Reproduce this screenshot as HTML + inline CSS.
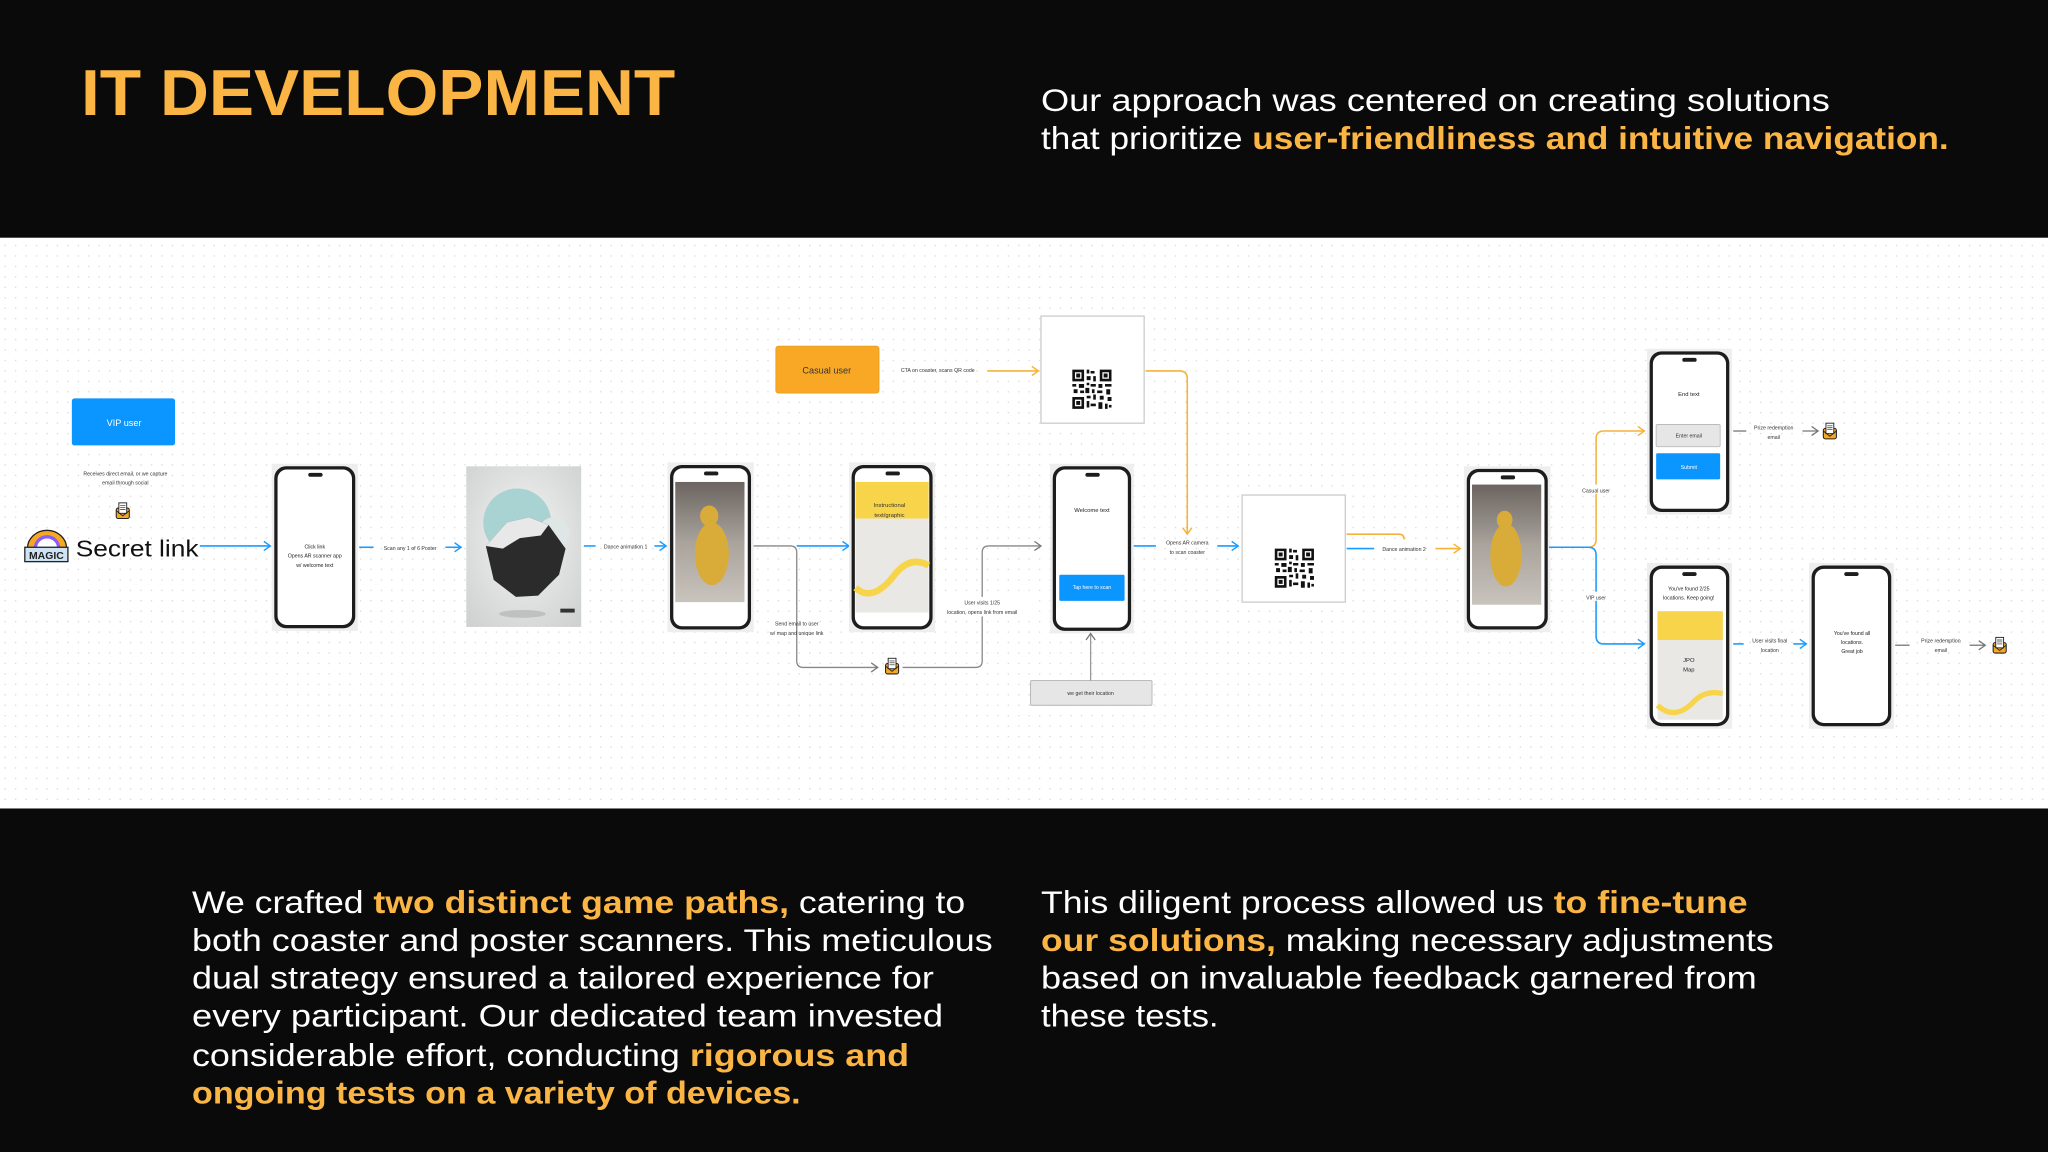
<!DOCTYPE html>
<html><head><meta charset="utf-8"><style>
html,body{margin:0;padding:0;background:#0a0a0a;}
svg{display:block;}
text{font-family:"Liberation Sans",Arial,sans-serif;}
</style></head><body>
<svg width="2048" height="1152" viewBox="0 0 1568 882" xmlns="http://www.w3.org/2000/svg">
<defs>
<pattern id="dots" width="8" height="8" patternUnits="userSpaceOnUse"><circle cx="4" cy="4" r="0.55" fill="#d6d6d6"/></pattern>
<marker id="ab" markerWidth="8" markerHeight="8" refX="6" refY="4" orient="auto" markerUnits="userSpaceOnUse"><path d="M1,0.5 L6,4 L1,7.5" fill="none" stroke="#1a9bff" stroke-width="1.1"/></marker>
<marker id="ao" markerWidth="8" markerHeight="8" refX="6" refY="4" orient="auto" markerUnits="userSpaceOnUse"><path d="M1,0.5 L6,4 L1,7.5" fill="none" stroke="#f7b23b" stroke-width="1.1"/></marker>
<marker id="ag" markerWidth="8" markerHeight="8" refX="6" refY="4" orient="auto" markerUnits="userSpaceOnUse"><path d="M1,0.5 L6,4 L1,7.5" fill="none" stroke="#777" stroke-width="1"/></marker>
<linearGradient id="hall" x1="0" y1="0" x2="0" y2="1"><stop offset="0" stop-color="#6b6460"/><stop offset="0.5" stop-color="#a9a39c"/><stop offset="1" stop-color="#c9c3bd"/></linearGradient>
<radialGradient id="post" cx="0.5" cy="0.45" r="0.7"><stop offset="0" stop-color="#f4f4f3"/><stop offset="1" stop-color="#cfd2d1"/></radialGradient>
<g id="env"><rect x="-5" y="-3" width="10" height="8" rx="1.5" fill="#f7a823" stroke="#222" stroke-width="0.8"/><rect x="-3" y="-7" width="6" height="8" fill="#fff" stroke="#222" stroke-width="0.7"/><path d="M-2,-5h4M-2,-3.5h4M-2,-2h4" stroke="#222" stroke-width="0.5"/><path d="M-5,-1 L0,3 L5,-1" fill="none" stroke="#222" stroke-width="0.7"/></g>
<g id="qr"><rect x="0" y="0" width="30" height="30" fill="#fff"/><path fill="#111" d="M0,0h9v9h-9zM2,2v5h5v-5zM3,3h3v3h-3zM21,0h9v9h-9zM23,2v5h5v-5zM24,3h3v3h-3zM0,21h9v9h-9zM2,23v5h5v-5zM3,24h3v3h-3zM11,0h2v3h-2zM14,1h3v2h-3zM11,5h3v3h-3zM16,5h2v4h-2zM0,11h3v2h-3zM5,11h4v3h-4zM11,10h2v2h-2zM14,11h4v2h-4zM20,11h3v3h-3zM25,11h5v2h-5zM1,15h3v3h-3zM6,16h3v2h-3zM10,14h3v4h-3zM15,15h2v3h-2zM19,16h4v2h-4zM26,15h3v4h-3zM11,20h3v2h-3zM16,19h2v4h-2zM21,20h3v3h-3zM27,21h3v3h-3zM11,24h2v5h-2zM14,26h4v2h-4zM20,25h3v5h-3zM25,26h2v4h-2zM28,27h2v2h-2z"/></g>
</defs>

<!-- top band -->
<rect x="0" y="0" width="1568" height="182" fill="#0a0a0a"/>
<text x="62" y="88" font-size="50" font-weight="bold" fill="#fbb545" textLength="455" lengthAdjust="spacingAndGlyphs">IT DEVELOPMENT</text>
<text x="797" y="85" font-size="24" fill="#fff" textLength="604" lengthAdjust="spacingAndGlyphs">Our approach was centered on creating solutions</text>
<text x="797" y="114" font-size="24" fill="#fff" textLength="695" lengthAdjust="spacingAndGlyphs">that prioritize <tspan fill="#fbb545" font-weight="bold">user-friendliness and intuitive navigation.</tspan></text>

<!-- diagram band -->
<rect x="0" y="182" width="1568" height="437" fill="#fff"/>
<rect x="0" y="182" width="1568" height="437" fill="url(#dots)"/>

<!-- VIP -->
<rect x="55" y="305" width="79" height="36" rx="2" fill="#0a95ff"/>
<text x="95" y="326" font-size="7" fill="#fff" text-anchor="middle">VIP user</text>
<text x="96" y="364" font-size="4" fill="#333" text-anchor="middle">Receives direct email, or we capture</text>
<text x="96" y="371" font-size="4" fill="#333" text-anchor="middle">email through social</text>
<use href="#env" x="94" y="392"/>
<!-- magic logo -->
<path d="M21,420 a15,14 0 0 1 30,0" fill="#f7a823" stroke="#222" stroke-width="1"/>
<path d="M27,420 a9,9 0 0 1 18,0" fill="#fff" stroke="#8b5cf6" stroke-width="2.5"/>
<rect x="19" y="419" width="33" height="11" fill="#cfe3f5" stroke="#222" stroke-width="1"/>
<text x="35.5" y="428" font-size="8" font-weight="bold" fill="#222" text-anchor="middle">MAGIC</text>
<text x="58" y="426" font-size="18" fill="#111" textLength="94" lengthAdjust="spacingAndGlyphs">Secret link</text>
<line x1="153" y1="418" x2="207" y2="418" stroke="#1a9bff" stroke-width="1.2" marker-end="url(#ab)"/>

<!-- phone 1 -->
<rect x="208" y="355" width="66" height="128" fill="#eee"/>
<rect x="210" y="357" width="62" height="124" rx="9" fill="#1d1d1d"/>
<rect x="212.5" y="359.5" width="57" height="119" rx="7" fill="#fff"/>
<rect x="236" y="362" width="11" height="3" rx="1.5" fill="#1d1d1d"/>
<text x="241" y="420" font-size="4" fill="#222" text-anchor="middle">Click link</text>
<text x="241" y="427" font-size="4" fill="#222" text-anchor="middle">Opens AR scanner app</text>
<text x="241" y="434" font-size="4" fill="#222" text-anchor="middle">w/ welcome text</text>

<line x1="275" y1="419" x2="286" y2="419" stroke="#1a9bff" stroke-width="1.2"/>
<text x="314" y="421" font-size="4" fill="#333" text-anchor="middle">Scan any 1 of 6 Poster</text>
<line x1="341" y1="419" x2="353" y2="419" stroke="#1a9bff" stroke-width="1.2" marker-end="url(#ab)"/>

<!-- poster -->
<rect x="357" y="357" width="88" height="123" fill="url(#post)"/>
<circle cx="396" cy="400" r="26" fill="#a9d3d2"/>
<circle cx="424" cy="408" r="12" fill="#dfe6e6"/>
<path d="M372,418 L388,400 L405,396 L420,402 L433,420 L428,440 L412,456 L395,457 L378,444 Z" fill="#2b2b2b"/>
<path d="M372,418 L388,400 L405,396 L420,402 L414,410 L398,412 L385,420 Z" fill="#e8e8e8"/>
<ellipse cx="400" cy="470" rx="18" ry="3" fill="#bfc1c1"/>
<rect x="429" y="466" width="11" height="3" fill="#333"/>

<line x1="447" y1="418" x2="456" y2="418" stroke="#1a9bff" stroke-width="1.2"/>
<text x="479" y="420" font-size="4" fill="#333" text-anchor="middle">Dance animation 1</text>
<line x1="501" y1="418" x2="510" y2="418" stroke="#1a9bff" stroke-width="1.2" marker-end="url(#ab)"/>

<!-- phone 3 dance -->
<rect x="511" y="354" width="66" height="130" fill="#eee"/>
<rect x="513" y="356" width="62" height="126" rx="9" fill="#1d1d1d"/>
<rect x="515.5" y="358.5" width="57" height="121" rx="7" fill="#fff"/>
<rect x="539" y="361" width="11" height="3" rx="1.5" fill="#1d1d1d"/>
<rect x="517" y="369" width="53" height="92" fill="url(#hall)"/>
<ellipse cx="545" cy="424" rx="13" ry="24" fill="#d9ac3a"/>
<ellipse cx="543" cy="395" rx="7" ry="8" fill="#d9ac3a"/>

<!-- gray + blue from phone3 -->
<path d="M577,418 H605 Q610,418 610,423 V506 Q610,511 615,511 H672" fill="none" stroke="#888" stroke-width="1" marker-end="url(#ag)"/>
<line x1="610" y1="418" x2="650" y2="418" stroke="#1a9bff" stroke-width="1.2" marker-end="url(#ab)"/>
<text x="610" y="479" font-size="4" fill="#333" text-anchor="middle">Send email to user</text>
<text x="610" y="486" font-size="4" fill="#333" text-anchor="middle">w/ map and unique link</text>
<use href="#env" x="683" y="511"/>
<path d="M691,511 H747 Q752,511 752,506 V423 Q752,418 757,418 H797" fill="none" stroke="#888" stroke-width="1" marker-end="url(#ag)"/>
<rect x="712" y="457" width="80" height="15" fill="#fff"/>
<text x="752" y="463" font-size="4" fill="#333" text-anchor="middle">User visits 1/25</text>
<text x="752" y="470" font-size="4" fill="#333" text-anchor="middle">location, opens link from email</text>

<!-- phone 4 instructional -->
<rect x="650" y="354" width="66" height="130" fill="#eee"/>
<rect x="652" y="356" width="62" height="126" rx="9" fill="#1d1d1d"/>
<rect x="654.5" y="358.5" width="57" height="121" rx="7" fill="#fff"/>
<rect x="678" y="361" width="11" height="3" rx="1.5" fill="#1d1d1d"/>
<rect x="655" y="369" width="56" height="100" fill="#e9e8e4"/>
<rect x="655" y="369" width="56" height="28" fill="#f7d44a"/>
<path d="M655,450 Q668,462 685,440 Q697,425 711,433" fill="none" stroke="#f7d44a" stroke-width="5"/>
<text x="681" y="388" font-size="4.5" fill="#333" text-anchor="middle">Instructional</text>
<text x="681" y="396" font-size="4.5" fill="#333" text-anchor="middle">text/graphic</text>

<!-- casual user -->
<rect x="594" y="265" width="79" height="36" rx="2" fill="#f9a825" stroke="#e59b1c" stroke-width="0.6"/>
<text x="633" y="286" font-size="7" fill="#333" text-anchor="middle">Casual user</text>
<text x="718" y="285" font-size="4" fill="#333" text-anchor="middle">CTA on coaster, scans QR code</text>
<line x1="756" y1="284" x2="795" y2="284" stroke="#f7b23b" stroke-width="1.2" marker-end="url(#ao)"/>

<!-- QR top -->
<rect x="797" y="242" width="79" height="82" fill="#fff" stroke="#ccc" stroke-width="1"/>
<use href="#qr" transform="translate(821,283)"/>
<path d="M877,284 H903 Q909,284 909,290 V409" fill="none" stroke="#f7b23b" stroke-width="1.2" marker-end="url(#ao)"/>

<!-- phone 5 welcome -->
<rect x="804" y="355" width="64" height="130" fill="#eee"/>
<rect x="806" y="357" width="60" height="126" rx="9" fill="#1d1d1d"/>
<rect x="808.5" y="359.5" width="55" height="121" rx="7" fill="#fff"/>
<rect x="831" y="362" width="11" height="3" rx="1.5" fill="#1d1d1d"/>
<text x="836" y="392" font-size="4.5" fill="#222" text-anchor="middle">Welcome text</text>
<rect x="811" y="440" width="50" height="20" rx="1" fill="#0a95ff"/>
<text x="836" y="451" font-size="4" fill="#fff" text-anchor="middle">Tap here to scan</text>

<rect x="789" y="521" width="93" height="19" rx="1" fill="#e6e6e6" stroke="#bbb" stroke-width="0.8"/>
<text x="835" y="532" font-size="4" fill="#333" text-anchor="middle">we get their location</text>
<line x1="835" y1="521" x2="835" y2="485" stroke="#999" stroke-width="1" marker-end="url(#ag)"/>

<line x1="868" y1="418" x2="885" y2="418" stroke="#1a9bff" stroke-width="1.2"/>
<text x="909" y="417" font-size="4" fill="#333" text-anchor="middle">Opens AR camera</text>
<text x="909" y="424" font-size="4" fill="#333" text-anchor="middle">to scan coaster</text>
<line x1="932" y1="418" x2="948" y2="418" stroke="#1a9bff" stroke-width="1.2" marker-end="url(#ab)"/>

<!-- QR mid -->
<rect x="951" y="379" width="79" height="82" fill="#fff" stroke="#ccc" stroke-width="1"/>
<use href="#qr" transform="translate(976,420)"/>
<path d="M1031,409 H1071 Q1075,409 1075,413" fill="none" stroke="#f7b23b" stroke-width="1.2"/>
<line x1="1031" y1="420" x2="1052" y2="420" stroke="#1a9bff" stroke-width="1.2"/>
<text x="1075" y="422" font-size="4" fill="#333" text-anchor="middle">Dance animation 2</text>
<line x1="1099" y1="420" x2="1118" y2="420" stroke="#f7b23b" stroke-width="1.2" marker-end="url(#ao)"/>

<!-- phone dance 2 -->
<rect x="1121" y="357" width="66" height="127" fill="#eee"/>
<rect x="1123" y="359" width="62" height="123" rx="9" fill="#1d1d1d"/>
<rect x="1125.5" y="361.5" width="57" height="118" rx="7" fill="#fff"/>
<rect x="1149" y="364" width="11" height="3" rx="1.5" fill="#1d1d1d"/>
<rect x="1127" y="371" width="53" height="92" fill="url(#hall)"/>
<ellipse cx="1153" cy="425" rx="12" ry="24" fill="#d9ac3a"/>
<ellipse cx="1152" cy="398" rx="6" ry="7" fill="#d9ac3a"/>

<!-- split -->
<path d="M1186,419 H1216 Q1222,419 1222,413 V336 Q1222,330 1228,330 H1259" fill="none" stroke="#f7b23b" stroke-width="1.2" marker-end="url(#ao)"/>
<path d="M1186,419 H1216 Q1222,419 1222,425 V487 Q1222,493 1228,493 H1259" fill="none" stroke="#1a9bff" stroke-width="1.2" marker-end="url(#ab)"/>
<rect x="1206" y="371" width="32" height="7" fill="#fff"/>
<text x="1222" y="377" font-size="4" fill="#333" text-anchor="middle">Casual user</text>
<rect x="1210" y="453" width="24" height="7" fill="#fff"/>
<text x="1222" y="459" font-size="4" fill="#333" text-anchor="middle">VIP user</text>

<!-- phone end text -->
<rect x="1261" y="267" width="65" height="127" fill="#eee"/>
<rect x="1263" y="269" width="61" height="123" rx="9" fill="#1d1d1d"/>
<rect x="1265.5" y="271.5" width="56" height="118" rx="7" fill="#fff"/>
<rect x="1288" y="274" width="11" height="3" rx="1.5" fill="#1d1d1d"/>
<text x="1293" y="303" font-size="4.5" fill="#222" text-anchor="middle">End text</text>
<rect x="1268" y="325" width="49" height="17" rx="1" fill="#e6e6e6" stroke="#bbb" stroke-width="0.7"/>
<text x="1293" y="335" font-size="4" fill="#333" text-anchor="middle">Enter email</text>
<rect x="1268" y="347" width="49" height="20" rx="1" fill="#0a95ff"/>
<text x="1293" y="359" font-size="4" fill="#fff" text-anchor="middle">Submit</text>

<line x1="1327" y1="330" x2="1337" y2="330" stroke="#777" stroke-width="1"/>
<text x="1358" y="329" font-size="4" fill="#333" text-anchor="middle">Prize redemption</text>
<text x="1358" y="336" font-size="4" fill="#333" text-anchor="middle">email</text>
<line x1="1380" y1="330" x2="1392" y2="330" stroke="#777" stroke-width="1" marker-end="url(#ag)"/>
<use href="#env" x="1401" y="331"/>

<!-- phone 2/25 -->
<rect x="1261" y="431" width="65" height="127" fill="#eee"/>
<rect x="1263" y="433" width="61" height="123" rx="9" fill="#1d1d1d"/>
<rect x="1265.5" y="435.5" width="56" height="118" rx="7" fill="#fff"/>
<rect x="1288" y="438" width="11" height="3" rx="1.5" fill="#1d1d1d"/>
<text x="1293" y="452" font-size="4" fill="#222" text-anchor="middle">You've found 2/25</text>
<text x="1293" y="459" font-size="4" fill="#222" text-anchor="middle">locations. Keep going!</text>
<rect x="1269" y="468" width="50" height="83" fill="#e9e8e4"/>
<rect x="1269" y="468" width="50" height="22" fill="#f7d44a"/>
<path d="M1269,540 Q1282,552 1296,538 Q1305,528 1319,531" fill="none" stroke="#f7d44a" stroke-width="4"/>
<text x="1293" y="507" font-size="4.5" fill="#222" text-anchor="middle">JPO</text>
<text x="1293" y="514" font-size="4.5" fill="#222" text-anchor="middle">Map</text>

<line x1="1327" y1="493" x2="1335" y2="493" stroke="#1a9bff" stroke-width="1.2"/>
<text x="1355" y="492" font-size="4" fill="#333" text-anchor="middle">User visits final</text>
<text x="1355" y="499" font-size="4" fill="#333" text-anchor="middle">location</text>
<line x1="1373" y1="493" x2="1383" y2="493" stroke="#1a9bff" stroke-width="1.2" marker-end="url(#ab)"/>

<!-- phone found all -->
<rect x="1385" y="431" width="65" height="127" fill="#eee"/>
<rect x="1387" y="433" width="61" height="123" rx="9" fill="#1d1d1d"/>
<rect x="1389.5" y="435.5" width="56" height="118" rx="7" fill="#fff"/>
<rect x="1412" y="438" width="11" height="3" rx="1.5" fill="#1d1d1d"/>
<text x="1418" y="486" font-size="4" fill="#222" text-anchor="middle">You've found all</text>
<text x="1418" y="493" font-size="4" fill="#222" text-anchor="middle">locations.</text>
<text x="1418" y="500" font-size="4" fill="#222" text-anchor="middle">Great job</text>

<line x1="1451" y1="494" x2="1462" y2="494" stroke="#777" stroke-width="1"/>
<text x="1486" y="492" font-size="4" fill="#333" text-anchor="middle">Prize redemption</text>
<text x="1486" y="499" font-size="4" fill="#333" text-anchor="middle">email</text>
<line x1="1508" y1="494" x2="1520" y2="494" stroke="#777" stroke-width="1" marker-end="url(#ag)"/>
<use href="#env" x="1531" y="495"/>

<!-- bottom band -->
<rect x="0" y="619" width="1568" height="263" fill="#0a0a0a"/>
<g font-size="24" fill="#fff">
<text x="147" y="699" textLength="592" lengthAdjust="spacingAndGlyphs">We crafted <tspan fill="#fbb545" font-weight="bold">two distinct game paths,</tspan> catering to</text>
<text x="147" y="728" textLength="613" lengthAdjust="spacingAndGlyphs">both coaster and poster scanners. This meticulous</text>
<text x="147" y="757" textLength="568" lengthAdjust="spacingAndGlyphs">dual strategy ensured a tailored experience for</text>
<text x="147" y="786" textLength="575" lengthAdjust="spacingAndGlyphs">every participant. Our dedicated team invested</text>
<text x="147" y="816" textLength="549" lengthAdjust="spacingAndGlyphs">considerable effort, conducting <tspan fill="#fbb545" font-weight="bold">rigorous and</tspan></text>
<text x="147" y="845" textLength="466" lengthAdjust="spacingAndGlyphs" fill="#fbb545" font-weight="bold">ongoing tests on a variety of devices.</text>
<text x="797" y="699" textLength="541" lengthAdjust="spacingAndGlyphs">This diligent process allowed us <tspan fill="#fbb545" font-weight="bold">to fine-tune</tspan></text>
<text x="797" y="728" textLength="561" lengthAdjust="spacingAndGlyphs"><tspan fill="#fbb545" font-weight="bold">our solutions,</tspan> making necessary adjustments</text>
<text x="797" y="757" textLength="548" lengthAdjust="spacingAndGlyphs">based on invaluable feedback garnered from</text>
<text x="797" y="786" textLength="136" lengthAdjust="spacingAndGlyphs">these tests.</text>
</g>
</svg>
</body></html>
